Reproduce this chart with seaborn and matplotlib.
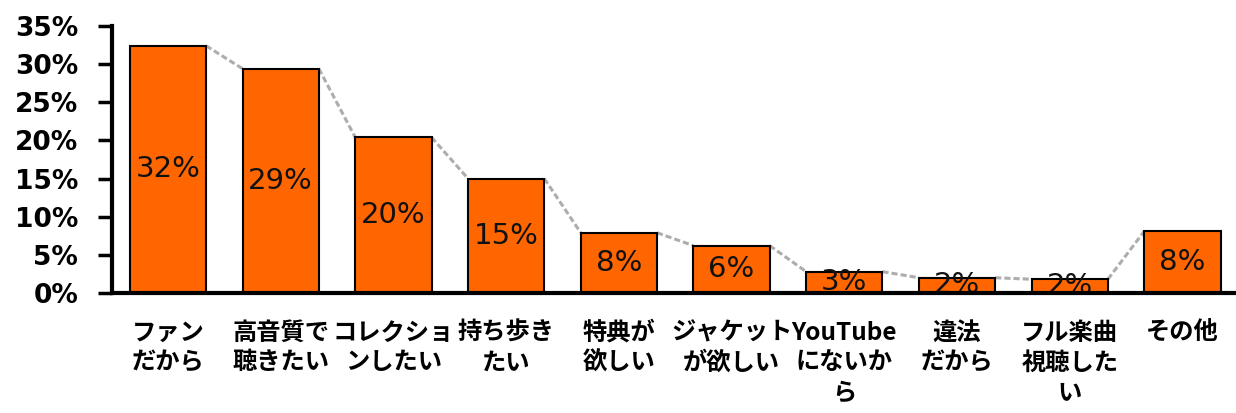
import matplotlib
matplotlib.use("Agg")
import matplotlib.pyplot as plt
import seaborn as sns
import pandas as pd

# Reasons for buying music (share of respondents, %)
categories = [
    "ファン\nだから",
    "高音質で\n聴きたい",
    "コレクショ\nンしたい",
    "持ち歩き\nたい",
    "特典が\n欲しい",
    "ジャケット\nが欲しい",
    "YouTube\nにないか\nら",
    "違法\nだから",
    "フル楽曲\n視聴した\nい",
    "その他",
]
shares = [32.4, 29.4, 20.4, 15.0, 7.9, 6.2, 2.8, 2.0, 1.8, 8.1]
y_ticks = [0, 5, 10, 15, 20, 25, 30, 35]

df = pd.DataFrame({"reason": categories, "share": shares})

sns.set_theme(style="white")
plt.rcParams["font.family"] = ["DejaVu Sans", "Noto Sans CJK JP"]
plt.rcParams["text.color"] = "black"
plt.rcParams["xtick.color"] = "black"
plt.rcParams["ytick.color"] = "black"
plt.rcParams["xtick.labelcolor"] = "black"
plt.rcParams["ytick.labelcolor"] = "black"

fig = plt.figure(figsize=(12.36, 4.13), dpi=100)
ax = fig.add_axes([0.0903, 0.2906, 0.912, 0.6465])

sns.barplot(
    data=df, x="reason", y="share", color="#FF6600", saturation=1,
    width=0.677, edgecolor="black", linewidth=1.5, ax=ax, zorder=3,
)

# Series lines joining the top corners of neighbouring bars
bars = ax.patches
for left, right in zip(bars[:-1], bars[1:]):
    x0 = left.get_x() + left.get_width()
    x1 = right.get_x()
    ax.plot([x0, x1], [left.get_height(), right.get_height()],
            color="#ADADAD", lw=2.2, ls=(0, (2.0, 1.0)), zorder=2,
            solid_capstyle="butt")

# Value labels centred in each bar
for bar, v in zip(bars, shares):
    ax.text(bar.get_x() + bar.get_width() / 2, v / 2, f"{round(v)}%",
            ha="center", va="center", fontsize=21, color="#111111",
            family="DejaVu Sans", zorder=4)

n = len(categories)
ax.set_xlim(-0.5, n - 0.5)
ax.set_ylim(0, 35)
ax.set_yticks(y_ticks)
ax.set_yticklabels([f"{t}%" for t in y_ticks], fontsize=19,
                   fontweight="bold", family="DejaVu Sans")

# Category labels sit at the centres, tick marks at the boundaries
ax.set_xticks(range(n))
ax.set_xticklabels(categories, fontsize=17.5, fontweight="bold",
                   family=["Noto Sans CJK JP", "DejaVu Sans"],
                   linespacing=1.3)
ax.tick_params(axis="x", length=0, pad=20)
ax.set_xticks([i + 0.5 for i in range(n - 1)], minor=True)
ax.tick_params(axis="x", which="minor", direction="in", length=10,
               width=2.5, color="black")
ax.tick_params(axis="y", direction="out", length=10, width=2.5,
               color="black", pad=14, left=True)

ax.set_xlabel("")
ax.set_ylabel("")
for side in ("top", "right"):
    ax.spines[side].set_visible(False)
for side in ("left", "bottom"):
    ax.spines[side].set_color("black")
    ax.spines[side].set_linewidth(3)
ax.spines["bottom"].set_zorder(5)

fig.savefig("out.png", dpi=100, facecolor="white")
